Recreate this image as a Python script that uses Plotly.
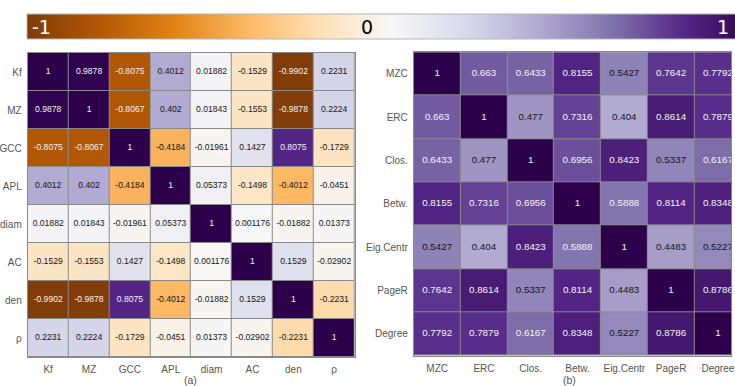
import plotly.graph_objects as go

W, H = 735, 386

# Correlation matrix (a): graph-level descriptors
labels_a = ["Kf", "MZ", "GCC", "APL", "diam", "AC", "den", "ρ"]
corr_a = [
    [1, 0.9878, -0.8075, 0.4012, 0.01882, -0.1529, -0.9902, 0.2231],
    [0.9878, 1, -0.8067, 0.402, 0.01843, -0.1553, -0.9878, 0.2224],
    [-0.8075, -0.8067, 1, -0.4184, -0.01961, 0.1427, 0.8075, -0.1729],
    [0.4012, 0.402, -0.4184, 1, 0.05373, -0.1498, -0.4012, -0.0451],
    [0.01882, 0.01843, -0.01961, 0.05373, 1, 0.001176, -0.01882, 0.01373],
    [-0.1529, -0.1553, 0.1427, -0.1498, 0.001176, 1, 0.1529, -0.02902],
    [-0.9902, -0.9878, 0.8075, -0.4012, -0.01882, 0.1529, 1, -0.2231],
    [0.2231, 0.2224, -0.1729, -0.0451, 0.01373, -0.02902, -0.2231, 1],
]

# Correlation matrix (b): node centrality measures
labels_b = ["MZC", "ERC", "Clos.", "Betw.", "Eig.Centr", "PageR", "Degree"]
corr_b = [
    [1, 0.663, 0.6433, 0.8155, 0.5427, 0.7642, 0.7792],
    [0.663, 1, 0.477, 0.7316, 0.404, 0.8614, 0.7879],
    [0.6433, 0.477, 1, 0.6956, 0.8423, 0.5337, 0.6167],
    [0.8155, 0.7316, 0.6956, 1, 0.5888, 0.8114, 0.8348],
    [0.5427, 0.404, 0.8423, 0.5888, 1, 0.4483, 0.5227],
    [0.7642, 0.8614, 0.5337, 0.8114, 0.4483, 1, 0.8786],
    [0.7792, 0.7879, 0.6167, 0.8348, 0.5227, 0.8786, 1],
]

colorbar_ticks = [-1, 0, 1]

PUOR = [
    [0.0, "#7f3b08"], [0.1, "#b35806"], [0.2, "#e08214"], [0.3, "#fdb863"],
    [0.4, "#fee0b6"], [0.5, "#f7f7f7"], [0.6, "#d8daeb"], [0.7, "#b2abd2"],
    [0.8, "#8073ac"], [0.9, "#542788"], [1.0, "#2d004b"],
]

FONT = "Liberation Sans, Arial, sans-serif"


def px_x(x):
    return x / W


def px_y(y):
    return 1 - y / H


def cell_text(matrix, xa, ya, size):
    xs, ys, txt, cols = [], [], [], []
    for i, row in enumerate(matrix):
        for j, v in enumerate(row):
            xs.append(j)
            ys.append(i)
            txt.append(f"{v:.4g}")
            cols.append("#f4f4f4" if abs(v) > 0.56 else "#161616")
    return go.Scatter(
        x=xs, y=ys, text=txt, mode="text", xaxis=xa, yaxis=ya,
        textfont=dict(family=FONT, size=size, color=cols),
        hoverinfo="skip", showlegend=False, cliponaxis=True,
    )


fig = go.Figure()

fig.add_trace(go.Heatmap(
    z=corr_a, x=list(range(len(labels_a))), y=list(range(len(labels_a))),
    coloraxis="coloraxis", xgap=1, ygap=1, xaxis="x", yaxis="y",
))
fig.add_trace(cell_text(corr_a, "x", "y", 8.6))

fig.add_trace(go.Heatmap(
    z=corr_b, x=list(range(len(labels_b))), y=list(range(len(labels_b))),
    coloraxis="coloraxis", xgap=1, ygap=1, xaxis="x2", yaxis="y2",
))
fig.add_trace(cell_text(corr_b, "x2", "y2", 9.8))

tick_font = dict(family=FONT, size=10, color="#555555")
axis_common = dict(
    showgrid=False, zeroline=False, showline=True, mirror=True,
    linecolor="#8a8a8a", linewidth=1, tickfont=tick_font,
    ticks="outside", ticklen=3, tickcolor="rgba(0,0,0,0)",
    ticklabeloverflow="allow",
)

# right panel continues past the page edge, so its last column is clipped
col_b = 47.3
x2_left = 414.3
x2_hidden = (len(labels_b) * col_b - (W - x2_left)) / col_b

fig.update_layout(
    width=W, height=H, autosize=False,
    margin=dict(l=0, r=0, t=0, b=0),
    paper_bgcolor="white", plot_bgcolor="#8a8a8a",
    coloraxis=dict(
        colorscale=PUOR, cmin=-1, cmax=1,
        colorbar=dict(
            orientation="h", xanchor="left", yanchor="top",
            x=px_x(23), y=px_y(14), xpad=0, ypad=0,
            len=730, lenmode="pixels", thickness=25, thicknessmode="pixels",
            outlinewidth=1, outlinecolor="#b8b8b8",
            showticklabels=False, ticks="", tickvals=colorbar_ticks,
        ),
    ),
    xaxis=dict(
        domain=[px_x(24), px_x(354.5)], range=[-0.5, len(labels_a) - 0.5],
        tickvals=list(range(len(labels_a))), ticktext=labels_a,
        anchor="y", **axis_common,
    ),
    yaxis=dict(
        domain=[px_y(357), px_y(53)], range=[len(labels_a) - 0.5, -0.5],
        tickvals=list(range(len(labels_a))), ticktext=labels_a,
        anchor="x", **axis_common,
    ),
    xaxis2=dict(
        domain=[px_x(x2_left), 1.0],
        range=[-0.5, len(labels_b) - 0.5 - x2_hidden],
        tickvals=list(range(len(labels_b))), ticktext=labels_b,
        anchor="y2", **axis_common,
    ),
    yaxis2=dict(
        domain=[px_y(355.5), px_y(52.3)], range=[len(labels_b) - 0.5, -0.5],
        tickvals=list(range(len(labels_b))), ticktext=labels_b,
        anchor="x2", **axis_common,
    ),
)

# colour bar labels drawn inside the bar
cb_label_pos = [(26, "left", "white"), (367, "center", "black"), (735, "right", "white")]
for v, (xp, anchor, col) in zip(colorbar_ticks, cb_label_pos):
    fig.add_annotation(
        x=px_x(xp), y=px_y(26.5), xref="paper", yref="paper",
        xanchor=anchor, yanchor="middle", showarrow=False,
        text=str(v), font=dict(family="DejaVu Sans, sans-serif", size=19, color=col),
    )

# panel captions
for cap, xp in [("(a)", 189), ("(b)", 571.5)]:
    fig.add_annotation(
        x=px_x(xp), y=px_y(380), xref="paper", yref="paper",
        xanchor="center", yanchor="middle", showarrow=False,
        text=cap, font=dict(family=FONT, size=10.5, color="#555555"),
    )

fig.write_html("out.html")
